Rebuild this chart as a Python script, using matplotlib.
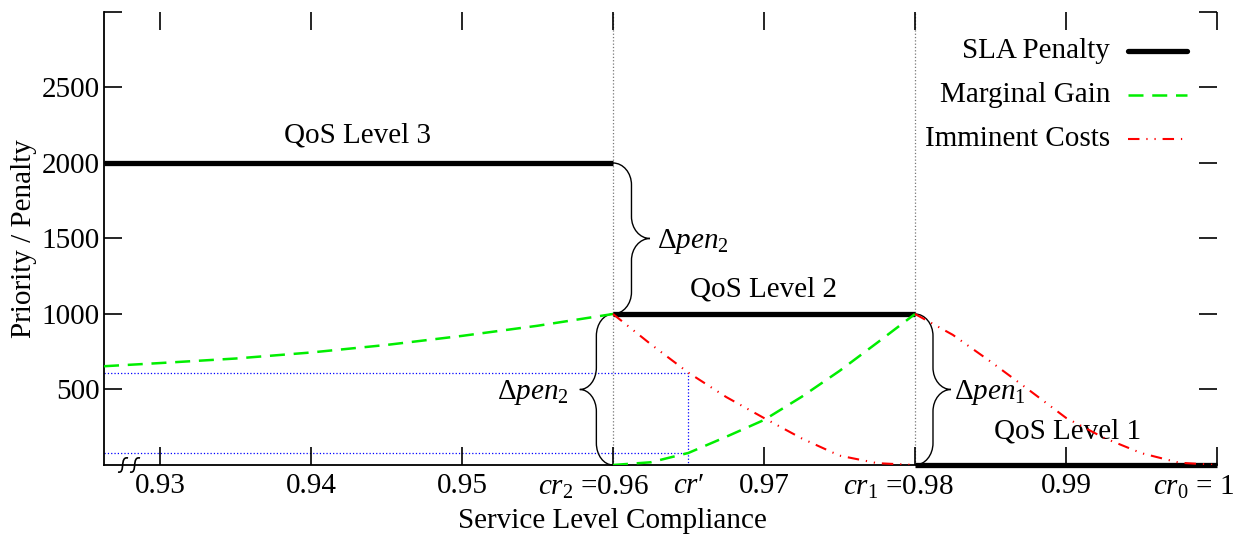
import numpy as np
import matplotlib
matplotlib.use("Agg")
import matplotlib.pyplot as plt
from matplotlib.path import Path
from matplotlib.patches import PathPatch
from matplotlib.transforms import offset_copy

plt.rcParams['font.family'] = ['Liberation Serif', 'DejaVu Serif']
plt.rcParams['mathtext.fontset'] = 'custom'
plt.rcParams['mathtext.rm'] = 'Liberation Serif'
plt.rcParams['mathtext.it'] = 'Liberation Serif:italic'
FS = 21
plt.rcParams['font.size'] = FS

# data
x_min, x_max = 0.9263, 1.0
level_bounds = [x_min, 0.96, 0.98, 1.0]
penalties = [2000, 1000, 0]
level_names = ['QoS Level 3', 'QoS Level 2', 'QoS Level 1']

gain_x1 = [0.9263, 0.93, 0.935, 0.94, 0.945, 0.95, 0.955, 0.96]
gain_y1 = [654, 675, 705, 745, 795, 855, 922, 1000]
gain_x2 = [0.96, 0.9625, 0.965, 0.9675, 0.97, 0.9725, 0.975, 0.9775, 0.98]
gain_y2 = [0, 18, 80, 187, 298, 452, 623, 810, 1000]

cost_x1 = [0.96, 0.9625, 0.965, 0.9675, 0.97, 0.9725, 0.975, 0.9775, 0.98]
cost_y1 = [1000, 800, 611, 450, 311, 176, 62, 12, 0]
cost_x2 = [0.98, 0.9825, 0.985, 0.9875, 0.99, 0.9925, 0.995, 0.9975, 1.0]
cost_y2 = [1000, 862, 685, 500, 312, 180, 78, 15, 0]

cr_prime = 0.965
xticks = [0.93, 0.94, 0.95, 0.96, 0.97, 0.98, 0.99, 1.0]
xticklabels = ['0.93', '0.94', '0.95', '', '0.97', '', '0.99', '']
# threshold labels, hung to the right of their ticks like in the original
cr_labels = [(0.96, '$cr_2$ =0.96', 36), (0.98, '$cr_1$ =0.98', 39), (1.0, '$cr_0$ = 1', 17)]
yticks = [500, 1000, 1500, 2000, 2500, 3000]
yticklabels = ['500', '1000', '1500', '2000', '2500', '']


def brace(ax, x0, y_top, y_bot, w, r, side=1):
    xm = x0 + side * w / 2
    xt = x0 + side * w
    ym = (y_top + y_bot) / 2
    k = 0.552
    verts = [(x0, y_top),
             (x0 + side * w / 2 * k, y_top), (xm, y_top - r * (1 - k)), (xm, y_top - r),
             (xm, ym + r),
             (xm, ym + r * (1 - k)), (xm + side * w / 2 * (1 - k), ym), (xt, ym),
             (xm + side * w / 2 * (1 - k), ym), (xm, ym - r * (1 - k)), (xm, ym - r),
             (xm, y_bot + r),
             (xm, y_bot + r * (1 - k)), (x0 + side * w / 2 * k, y_bot), (x0, y_bot)]
    codes = [Path.MOVETO, Path.CURVE4, Path.CURVE4, Path.CURVE4, Path.LINETO,
             Path.CURVE4, Path.CURVE4, Path.CURVE4, Path.CURVE4, Path.CURVE4,
             Path.CURVE4, Path.LINETO, Path.CURVE4, Path.CURVE4, Path.CURVE4]
    ax.add_patch(PathPatch(Path(verts, codes), fill=False, lw=1.0,
                           color='black', zorder=4, clip_on=False))


fig = plt.figure(figsize=(12.4, 5.4), dpi=100)
ax = fig.add_axes([0.0839, 0.1389, 0.8976, 0.8389])
ax.set_xlim(x_min, x_max)
ax.set_ylim(0, 3000)

# guide lines at the level boundaries
for xb in level_bounds[1:3]:
    ax.axvline(xb, color='#777777', ls=':', lw=0.9, zorder=1)

# cr' projections
red_at_cr = np.interp(cr_prime, cost_x1, cost_y1)
green_at_cr = np.interp(cr_prime, gain_x2, gain_y2)
ax.plot([x_min, cr_prime, cr_prime], [red_at_cr, red_at_cr, 0],
        color='blue', ls=':', lw=0.9, zorder=1)
ax.plot([x_min, cr_prime], [green_at_cr, green_at_cr],
        color='blue', ls=':', lw=0.9, zorder=1)

# SLA penalty steps
for i in range(3):
    ax.plot([level_bounds[i], level_bounds[i + 1]], [penalties[i], penalties[i]],
            color='black', lw=3.8, solid_capstyle='butt', zorder=3, clip_on=False)

green_ls = (0, (6, 3.5))
red_ls = (0, (5.5, 3.3, 0.6, 3.3, 0.6, 3.3))
ax.plot(gain_x1, gain_y1, color='#00ee00', lw=1.8, ls=green_ls, zorder=5)
ax.plot(gain_x2, gain_y2, color='#00ee00', lw=1.8, ls=green_ls, zorder=5)
ax.plot(cost_x1, cost_y1, color='red', lw=1.5, ls=red_ls, zorder=6)
ax.plot(cost_x2, cost_y2, color='red', lw=1.5, ls=red_ls, zorder=6)

# level labels
ax.text(0.9431, 2180, level_names[0], ha='center', va='center')
ax.text(0.9700, 1160, level_names[1], ha='center', va='center')
ax.text(0.9901, 220, level_names[2], ha='center', va='center')

# braces
brace(ax, 0.96, 2000, 1000, 0.00245, 145, side=1)
ax.text(0.9629, 1480, r'$\Delta pen_2$', ha='left', va='center')
brace(ax, 0.96, 1000, 0, 0.0022, 145, side=-1)
ax.text(0.9571, 480, r'$\Delta pen_2$', ha='right', va='center')
brace(ax, 0.98, 1000, 0, 0.00238, 145, side=1)
ax.text(0.9826, 480, r'$\Delta pen_1$', ha='left', va='center')

# legend, gnuplot style
leg_rows = [('SLA Penalty', dict(color='black', lw=3.8, solid_capstyle='round')),
            ('Marginal Gain', dict(color='#00ee00', lw=1.8, ls=green_ls)),
            ('Imminent Costs', dict(color='red', lw=1.5, ls=red_ls))]
for j, (lab, kw) in enumerate(leg_rows):
    yy = 0.914 - j * 0.097
    ax.text(0.904, yy, lab, transform=ax.transAxes, ha='right', va='center')
    ax.plot([0.920, 0.973], [yy, yy], transform=ax.transAxes, **kw)

# axis break mark
pxx, pxy = 1 / 1113, 1 / 453
for dx in (14, 26):
    v = [(dx * pxx, -7 * pxy), (dx * pxx + 8 * pxx, -9 * pxy),
         (dx * pxx + 1 * pxx, 9 * pxy), (dx * pxx + 10 * pxx, 7 * pxy)]
    ax.add_patch(PathPatch(Path(v, [Path.MOVETO, Path.CURVE4, Path.CURVE4, Path.CURVE4]),
                           fill=False, lw=1.2, color='black', transform=ax.transAxes,
                           clip_on=False, zorder=7))

# axes styling
ax.spines['top'].set_visible(False)
ax.spines['right'].set_visible(False)
ax.spines['left'].set_linewidth(1.3)
ax.spines['bottom'].set_linewidth(1.3)
ax.set_xticks(xticks)
ax.set_xticklabels(xticklabels)
ax.set_xticks([cr_prime], minor=True)
ax.set_xticklabels(['$cr$\u2032'], minor=True)
ax.set_yticks(yticks)
ax.set_yticklabels(yticklabels)
ax.tick_params(axis='both', which='major', direction='in', length=13, width=1.2,
               top=True, right=True, labelsize=FS)
ax.tick_params(axis='x', which='major', pad=6)
ax.tick_params(axis='y', which='major', pad=3)
ax.tick_params(axis='x', which='minor', length=0, pad=6, labelsize=FS)

lab_tr = offset_copy(ax.get_xaxis_transform(), fig=fig, y=-6, units='points')
for xv, txt, dpx in cr_labels:
    ax.text(xv + dpx / 15100, 0, txt, transform=lab_tr, ha='right', va='top',
            fontsize=FS, clip_on=False)

ax.set_xlabel('Service Level Compliance', fontsize=FS)
ax.xaxis.set_label_coords(0.457, -0.095)
ax.set_ylabel('Priority / Penalty', fontsize=FS)
ax.yaxis.set_label_coords(-0.060, 0.5)

fig.savefig('out.png', dpi=100)
